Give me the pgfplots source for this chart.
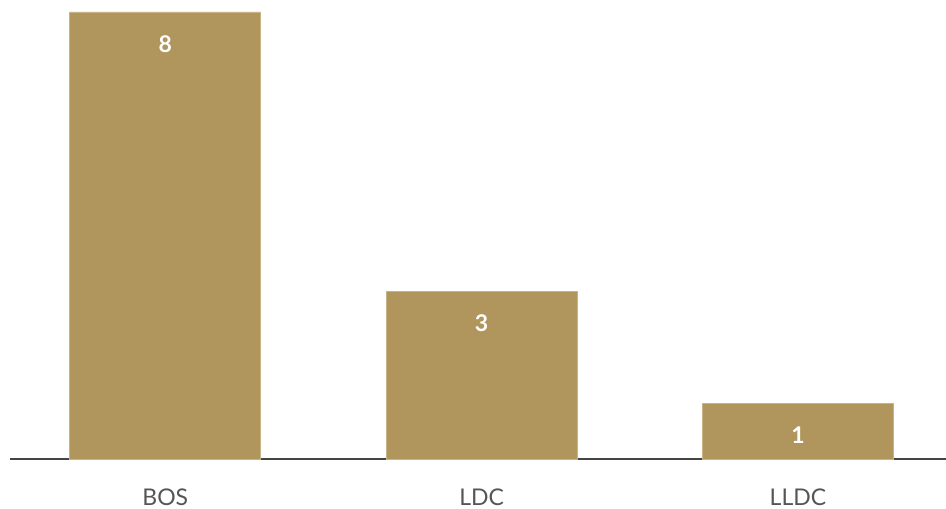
\documentclass[border=0pt]{standalone}
\usepackage{pgfplots}
\pgfplotsset{compat=1.18}
\usepackage{fontspec}
\setmainfont{Lato}
\definecolor{gold}{HTML}{B0955C}
\definecolor{goldedge}{HTML}{C9B384}
\definecolor{baseline}{HTML}{454545}
\definecolor{ticktext}{HTML}{555555}
\begin{document}
\begin{tikzpicture}[x=1pt,y=1pt]
\useasboundingbox (0,0) rectangle (946,509);
\begin{axis}[
  at={(10pt,50pt)}, anchor=south west,
  scale only axis, width=936pt, height=447pt,
  xmin=-0.491, xmax=2.468, ymin=0, ymax=8,
  axis x line*=bottom, axis y line=none,
  x axis line style={draw=baseline, line width=2pt, -},
  xtick={0,1,2}, xticklabels={BOS,LDC,LLDC},
  major tick length=0pt,
  xticklabel style={font=\fontsize{23}{26}\selectfont, text=ticktext, inner sep=0pt, anchor=base, yshift=-46pt},
  ybar, bar width=0.6035,
  clip=false,
  /pgf/number format/assume math mode=true,
  nodes near coords,
  nodes near coords align={below},
  every node near coord/.append style={font=\fontsize{23}{26}\selectfont\bfseries, text=white, yshift=-20pt},
]
\addplot[fill=gold, draw=goldedge, line width=0.8pt] coordinates {(0,8) (1,3) (2,1)};
\end{axis}
\end{tikzpicture}
\end{document}
